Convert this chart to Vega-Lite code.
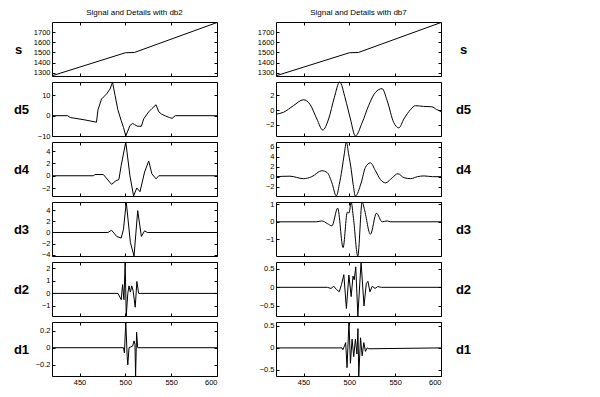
{
  "$schema": "https://vega.github.io/schema/vega-lite/v6.json",
  "padding": {"left": 12, "top": 8, "right": 5, "bottom": 5},
  "background": "white",
  "config": {
    "view": {"stroke": "black", "strokeWidth": 1},
    "axis": {"domain": false, "grid": false, "ticks": true, "tickSize": -3, "tickColor": "black", "tickWidth": 1, "labelFont": "Liberation Sans", "labelFontSize": 7.5, "labelColor": "black", "labelPadding": 5, "titleFont": "Liberation Sans", "titleFontSize": 13, "titleFontWeight": "bold", "titleColor": "black", "titleAngle": 0, "titleAlign": "center", "titleBaseline": "middle"},
    "title": {"font": "Liberation Sans", "fontSize": 8, "fontWeight": "normal", "color": "black", "offset": 4},
    "line": {"color": "black", "strokeWidth": 1}
  },
  "datasets": {
    "L_s": [{"x": 420, "y": 1270}, {"x": 500, "y": 1497}, {"x": 510, "y": 1500}, {"x": 600, "y": 1795}],
    "L_d5": [{"x": 420, "y": 0}, {"x": 437, "y": 0}, {"x": 440, "y": -0.9}, {"x": 455, "y": -2.0}, {"x": 468.5, "y": -3.2}, {"x": 470.2, "y": 3.0}, {"x": 474, "y": 8.2}, {"x": 479.7, "y": 10.8}, {"x": 483.3, "y": 13.1}, {"x": 486, "y": 16.5}, {"x": 488.8, "y": 10}, {"x": 491.8, "y": 3}, {"x": 495.4, "y": -2.3}, {"x": 498, "y": -5.8}, {"x": 500.5, "y": -10}, {"x": 505, "y": -4.9}, {"x": 508, "y": -3.8}, {"x": 510, "y": -4.4}, {"x": 513.5, "y": -5.2}, {"x": 517.5, "y": -5.2}, {"x": 520, "y": -1.6}, {"x": 525.5, "y": 1.9}, {"x": 529, "y": 3.5}, {"x": 533.5, "y": 5.4}, {"x": 536.5, "y": 1.9}, {"x": 539.5, "y": 0.8}, {"x": 544, "y": -0.2}, {"x": 548, "y": -0.9}, {"x": 551, "y": -1.3}, {"x": 554.5, "y": 0}, {"x": 600, "y": 0}],
    "L_d4": [{"x": 420, "y": 0}, {"x": 465, "y": 0}, {"x": 467, "y": 0.2}, {"x": 476, "y": 0.2}, {"x": 485, "y": -1.4}, {"x": 489, "y": -0.9}, {"x": 493, "y": -0.6}, {"x": 495.5, "y": 1.7}, {"x": 500.5, "y": 5.5}, {"x": 505, "y": 0}, {"x": 509, "y": -3.3}, {"x": 512.5, "y": -2.0}, {"x": 516, "y": -2.6}, {"x": 521, "y": 0.6}, {"x": 525.5, "y": 2.4}, {"x": 529, "y": 0.3}, {"x": 533.5, "y": -0.5}, {"x": 536.5, "y": 0}, {"x": 600, "y": 0}],
    "L_d3": [{"x": 420, "y": 0}, {"x": 481, "y": 0}, {"x": 485, "y": 0.4}, {"x": 490.5, "y": -0.7}, {"x": 495.5, "y": -1.0}, {"x": 498, "y": 0.6}, {"x": 501, "y": 5.45}, {"x": 505.5, "y": -1.8}, {"x": 509.5, "y": -4.2}, {"x": 513.5, "y": 3.9}, {"x": 517.5, "y": -0.7}, {"x": 521, "y": 0.3}, {"x": 524, "y": 0}, {"x": 600, "y": 0}],
    "L_d2": [{"x": 420, "y": 0}, {"x": 492, "y": 0}, {"x": 495.5, "y": -0.5}, {"x": 497, "y": 0.7}, {"x": 498.5, "y": -0.5}, {"x": 499.8, "y": 2.5}, {"x": 501, "y": -1.8}, {"x": 502.7, "y": 0}, {"x": 504, "y": 0.6}, {"x": 505.5, "y": 0.1}, {"x": 507, "y": 0.6}, {"x": 508.5, "y": 0.2}, {"x": 510.8, "y": -1.1}, {"x": 512.6, "y": 0.95}, {"x": 514.5, "y": 0}, {"x": 600, "y": 0}],
    "L_d1": [{"x": 420, "y": 0}, {"x": 498, "y": 0}, {"x": 499, "y": -0.06}, {"x": 500.5, "y": 0.3}, {"x": 502, "y": -0.1}, {"x": 502.7, "y": -0.2}, {"x": 504, "y": 0}, {"x": 508, "y": 0.02}, {"x": 509.5, "y": 0.08}, {"x": 510.5, "y": 0.04}, {"x": 511.2, "y": -0.33}, {"x": 512.3, "y": 0.18}, {"x": 513.5, "y": 0}, {"x": 600, "y": 0}],
    "R_s": [{"x": 420, "y": 1270}, {"x": 500, "y": 1497}, {"x": 510, "y": 1500}, {"x": 600, "y": 1795}],
    "R_d5": [{"x": 420, "y": -0.55}, {"x": 428, "y": -0.3}, {"x": 439, "y": 0.6}, {"x": 450, "y": 1.4}, {"x": 457, "y": 0.8}, {"x": 464.6, "y": -1.2}, {"x": 471, "y": -2.7}, {"x": 477.4, "y": -1.2}, {"x": 483.6, "y": 1.7}, {"x": 489.5, "y": 3.8}, {"x": 495.7, "y": 1.5}, {"x": 501.2, "y": -1.2}, {"x": 506.6, "y": -3.5}, {"x": 514, "y": -1.7}, {"x": 521, "y": 0.6}, {"x": 528.5, "y": 2.4}, {"x": 535.8, "y": 2.9}, {"x": 541.2, "y": 1.3}, {"x": 548.5, "y": -1.7}, {"x": 554, "y": -2.4}, {"x": 559.5, "y": -1.2}, {"x": 567, "y": 0.1}, {"x": 572, "y": 0.6}, {"x": 581, "y": 0.5}, {"x": 590, "y": 0.45}, {"x": 595, "y": 0.1}, {"x": 600, "y": -0.2}],
    "R_d4": [{"x": 420, "y": 0}, {"x": 435, "y": 0.1}, {"x": 450, "y": -0.4}, {"x": 459, "y": 0}, {"x": 470, "y": 1.2}, {"x": 476, "y": 0.8}, {"x": 481, "y": -1.25}, {"x": 485.8, "y": -3.9}, {"x": 489, "y": -1.6}, {"x": 492, "y": 1.5}, {"x": 494.5, "y": 4.6}, {"x": 496.8, "y": 7.0}, {"x": 499.2, "y": 4.6}, {"x": 502, "y": 1.5}, {"x": 504.2, "y": -1.6}, {"x": 506.6, "y": -3.9}, {"x": 512.9, "y": -1.25}, {"x": 517.6, "y": 1.9}, {"x": 523, "y": 2.8}, {"x": 528.5, "y": 1.2}, {"x": 534, "y": -0.6}, {"x": 539.5, "y": -1.25}, {"x": 546.9, "y": -0.2}, {"x": 553, "y": 0.6}, {"x": 559.6, "y": -0.2}, {"x": 567, "y": -0.4}, {"x": 574.3, "y": 0}, {"x": 581.5, "y": 0.15}, {"x": 590.8, "y": 0}, {"x": 600, "y": 0}],
    "R_d3": [{"x": 420, "y": 0}, {"x": 464, "y": 0}, {"x": 470, "y": 0.05}, {"x": 476, "y": -0.1}, {"x": 481, "y": -0.23}, {"x": 487.3, "y": 0.78}, {"x": 493.2, "y": -1.47}, {"x": 497.8, "y": 0.55}, {"x": 499.6, "y": 0.5}, {"x": 502, "y": 1.12}, {"x": 504.5, "y": 0.2}, {"x": 509.2, "y": -1.95}, {"x": 514, "y": 1.13}, {"x": 516.5, "y": 0.7}, {"x": 523, "y": -0.71}, {"x": 529.6, "y": 0.49}, {"x": 535.8, "y": 0}, {"x": 541.3, "y": 0.05}, {"x": 545, "y": 0}, {"x": 600, "y": 0}],
    "R_d2": [{"x": 420, "y": 0}, {"x": 476, "y": 0}, {"x": 480, "y": -0.03}, {"x": 483, "y": 0.03}, {"x": 486, "y": -0.06}, {"x": 489, "y": -0.12}, {"x": 491.5, "y": 0.08}, {"x": 494, "y": 0.34}, {"x": 496.8, "y": -0.57}, {"x": 499.5, "y": 0.33}, {"x": 502, "y": -0.25}, {"x": 504, "y": 0.3}, {"x": 505.3, "y": 0.2}, {"x": 507, "y": 0.55}, {"x": 509.3, "y": -0.77}, {"x": 512.8, "y": 0.68}, {"x": 516, "y": -0.5}, {"x": 518.5, "y": 0.1}, {"x": 520.3, "y": 0.16}, {"x": 522.5, "y": -0.12}, {"x": 525, "y": 0.03}, {"x": 528, "y": -0.03}, {"x": 531, "y": 0.02}, {"x": 535, "y": 0}, {"x": 600, "y": 0}],
    "R_d1": [{"x": 420, "y": 0}, {"x": 492, "y": 0}, {"x": 493, "y": -0.04}, {"x": 494.6, "y": 0.04}, {"x": 496, "y": 0.12}, {"x": 497.5, "y": -0.45}, {"x": 499.6, "y": 0.59}, {"x": 501.2, "y": -0.35}, {"x": 503, "y": 0.2}, {"x": 504.8, "y": -0.2}, {"x": 506.6, "y": 0.2}, {"x": 508.3, "y": -0.14}, {"x": 509.4, "y": 0.44}, {"x": 510.3, "y": -0.64}, {"x": 512.2, "y": 0.23}, {"x": 514, "y": -0.18}, {"x": 515.8, "y": 0.12}, {"x": 517.6, "y": -0.08}, {"x": 519.5, "y": 0}, {"x": 521.3, "y": -0.02}, {"x": 600, "y": 0}]
  },
  "columns": 2,
  "spacing": {"row": 6, "column": 59},
  "bounds": "flush",
  "concat": [
    {"title": "Signal and Details with db2", "width": 165, "height": 54, "layer": [
      {"data": {"name": "L_s"}, "mark": {"type": "line"}, "encoding": {"x": {"field": "x", "type": "quantitative", "scale": {"domain": [420, 600], "nice": false, "zero": false}, "axis": {"values": [450, 500, 550, 600], "labels": false, "title": null}}, "y": {"field": "y", "type": "quantitative", "scale": {"domain": [1268, 1800], "nice": false, "zero": false}, "axis": {"values": [1300, 1400, 1500, 1600, 1700], "format": "d", "title": "s", "titleX": -34, "titleY": 27}}}},
      {"data": {"name": "L_s"}, "mark": {"type": "line", "opacity": 0}, "encoding": {"x": {"field": "x", "type": "quantitative", "scale": {"domain": [420, 600], "nice": false, "zero": false}, "axis": {"orient": "top", "values": [450, 500, 550, 600], "labels": false, "title": null}}, "y": {"field": "y", "type": "quantitative", "scale": {"domain": [1268, 1800], "nice": false, "zero": false}, "axis": {"orient": "right", "values": [1300, 1400, 1500, 1600, 1700], "labels": false, "title": null}}}}
    ], "resolve": {"scale": {"x": "independent", "y": "independent"}, "axis": {"x": "independent", "y": "independent"}}},
    {"title": "Signal and Details with db7", "width": 165, "height": 54, "layer": [
      {"data": {"name": "R_s"}, "mark": {"type": "line"}, "encoding": {"x": {"field": "x", "type": "quantitative", "scale": {"domain": [420, 600], "nice": false, "zero": false}, "axis": {"values": [450, 500, 550, 600], "labels": false, "title": null}}, "y": {"field": "y", "type": "quantitative", "scale": {"domain": [1268, 1800], "nice": false, "zero": false}, "axis": {"values": [1300, 1400, 1500, 1600, 1700], "format": "d", "title": null}}}},
      {"data": {"name": "R_s"}, "mark": {"type": "line", "opacity": 0}, "encoding": {"x": {"field": "x", "type": "quantitative", "scale": {"domain": [420, 600], "nice": false, "zero": false}, "axis": {"orient": "top", "values": [450, 500, 550, 600], "labels": false, "title": null}}, "y": {"field": "y", "type": "quantitative", "scale": {"domain": [1268, 1800], "nice": false, "zero": false}, "axis": {"orient": "right", "values": [1300, 1400, 1500, 1600, 1700], "labels": false, "title": "s", "titleX": 22, "titleY": 27}}}}
    ], "resolve": {"scale": {"x": "independent", "y": "independent"}, "axis": {"x": "independent", "y": "independent"}}},
    {"width": 165, "height": 54, "layer": [
      {"data": {"name": "L_d5"}, "mark": {"type": "line"}, "encoding": {"x": {"field": "x", "type": "quantitative", "scale": {"domain": [420, 600], "nice": false, "zero": false}, "axis": {"values": [450, 500, 550, 600], "labels": false, "title": null}}, "y": {"field": "y", "type": "quantitative", "scale": {"domain": [-10, 16.6], "nice": false, "zero": false}, "axis": {"values": [-10, 0, 10], "format": "d", "title": "d5", "titleX": -31, "titleY": 27}}}},
      {"data": {"name": "L_d5"}, "mark": {"type": "line", "opacity": 0}, "encoding": {"x": {"field": "x", "type": "quantitative", "scale": {"domain": [420, 600], "nice": false, "zero": false}, "axis": {"orient": "top", "values": [450, 500, 550, 600], "labels": false, "title": null}}, "y": {"field": "y", "type": "quantitative", "scale": {"domain": [-10, 16.6], "nice": false, "zero": false}, "axis": {"orient": "right", "values": [-10, 0, 10], "labels": false, "title": null}}}}
    ], "resolve": {"scale": {"x": "independent", "y": "independent"}, "axis": {"x": "independent", "y": "independent"}}},
    {"width": 165, "height": 54, "layer": [
      {"data": {"name": "R_d5"}, "mark": {"type": "line", "interpolate": "monotone"}, "encoding": {"x": {"field": "x", "type": "quantitative", "scale": {"domain": [420, 600], "nice": false, "zero": false}, "axis": {"values": [450, 500, 550, 600], "labels": false, "title": null}}, "y": {"field": "y", "type": "quantitative", "scale": {"domain": [-3.5, 3.8], "nice": false, "zero": false}, "axis": {"values": [-2, 0, 2], "format": "d", "title": null}}}},
      {"data": {"name": "R_d5"}, "mark": {"type": "line", "opacity": 0}, "encoding": {"x": {"field": "x", "type": "quantitative", "scale": {"domain": [420, 600], "nice": false, "zero": false}, "axis": {"orient": "top", "values": [450, 500, 550, 600], "labels": false, "title": null}}, "y": {"field": "y", "type": "quantitative", "scale": {"domain": [-3.5, 3.8], "nice": false, "zero": false}, "axis": {"orient": "right", "values": [-2, 0, 2], "labels": false, "title": "d5", "titleX": 22, "titleY": 27}}}}
    ], "resolve": {"scale": {"x": "independent", "y": "independent"}, "axis": {"x": "independent", "y": "independent"}}},
    {"width": 165, "height": 54, "layer": [
      {"data": {"name": "L_d4"}, "mark": {"type": "line"}, "encoding": {"x": {"field": "x", "type": "quantitative", "scale": {"domain": [420, 600], "nice": false, "zero": false}, "axis": {"values": [450, 500, 550, 600], "labels": false, "title": null}}, "y": {"field": "y", "type": "quantitative", "scale": {"domain": [-3.3, 5.5], "nice": false, "zero": false}, "axis": {"values": [-2, 0, 2, 4], "format": "d", "title": "d4", "titleX": -31, "titleY": 27}}}},
      {"data": {"name": "L_d4"}, "mark": {"type": "line", "opacity": 0}, "encoding": {"x": {"field": "x", "type": "quantitative", "scale": {"domain": [420, 600], "nice": false, "zero": false}, "axis": {"orient": "top", "values": [450, 500, 550, 600], "labels": false, "title": null}}, "y": {"field": "y", "type": "quantitative", "scale": {"domain": [-3.3, 5.5], "nice": false, "zero": false}, "axis": {"orient": "right", "values": [-2, 0, 2, 4], "labels": false, "title": null}}}}
    ], "resolve": {"scale": {"x": "independent", "y": "independent"}, "axis": {"x": "independent", "y": "independent"}}},
    {"width": 165, "height": 54, "layer": [
      {"data": {"name": "R_d4"}, "mark": {"type": "line", "interpolate": "monotone"}, "encoding": {"x": {"field": "x", "type": "quantitative", "scale": {"domain": [420, 600], "nice": false, "zero": false}, "axis": {"values": [450, 500, 550, 600], "labels": false, "title": null}}, "y": {"field": "y", "type": "quantitative", "scale": {"domain": [-3.9, 7.0], "nice": false, "zero": false}, "axis": {"values": [-2, 0, 2, 4, 6], "format": "d", "title": null}}}},
      {"data": {"name": "R_d4"}, "mark": {"type": "line", "opacity": 0}, "encoding": {"x": {"field": "x", "type": "quantitative", "scale": {"domain": [420, 600], "nice": false, "zero": false}, "axis": {"orient": "top", "values": [450, 500, 550, 600], "labels": false, "title": null}}, "y": {"field": "y", "type": "quantitative", "scale": {"domain": [-3.9, 7.0], "nice": false, "zero": false}, "axis": {"orient": "right", "values": [-2, 0, 2, 4, 6], "labels": false, "title": "d4", "titleX": 22, "titleY": 27}}}}
    ], "resolve": {"scale": {"x": "independent", "y": "independent"}, "axis": {"x": "independent", "y": "independent"}}},
    {"width": 165, "height": 54, "layer": [
      {"data": {"name": "L_d3"}, "mark": {"type": "line"}, "encoding": {"x": {"field": "x", "type": "quantitative", "scale": {"domain": [420, 600], "nice": false, "zero": false}, "axis": {"values": [450, 500, 550, 600], "labels": false, "title": null}}, "y": {"field": "y", "type": "quantitative", "scale": {"domain": [-4.2, 5.45], "nice": false, "zero": false}, "axis": {"values": [-4, -2, 0, 2, 4], "format": "d", "title": "d3", "titleX": -31, "titleY": 27}}}},
      {"data": {"name": "L_d3"}, "mark": {"type": "line", "opacity": 0}, "encoding": {"x": {"field": "x", "type": "quantitative", "scale": {"domain": [420, 600], "nice": false, "zero": false}, "axis": {"orient": "top", "values": [450, 500, 550, 600], "labels": false, "title": null}}, "y": {"field": "y", "type": "quantitative", "scale": {"domain": [-4.2, 5.45], "nice": false, "zero": false}, "axis": {"orient": "right", "values": [-4, -2, 0, 2, 4], "labels": false, "title": null}}}}
    ], "resolve": {"scale": {"x": "independent", "y": "independent"}, "axis": {"x": "independent", "y": "independent"}}},
    {"width": 165, "height": 54, "layer": [
      {"data": {"name": "R_d3"}, "mark": {"type": "line", "interpolate": "monotone"}, "encoding": {"x": {"field": "x", "type": "quantitative", "scale": {"domain": [420, 600], "nice": false, "zero": false}, "axis": {"values": [450, 500, 550, 600], "labels": false, "title": null}}, "y": {"field": "y", "type": "quantitative", "scale": {"domain": [-1.95, 1.13], "nice": false, "zero": false}, "axis": {"values": [-1, 0, 1], "format": "d", "title": null}}}},
      {"data": {"name": "R_d3"}, "mark": {"type": "line", "opacity": 0}, "encoding": {"x": {"field": "x", "type": "quantitative", "scale": {"domain": [420, 600], "nice": false, "zero": false}, "axis": {"orient": "top", "values": [450, 500, 550, 600], "labels": false, "title": null}}, "y": {"field": "y", "type": "quantitative", "scale": {"domain": [-1.95, 1.13], "nice": false, "zero": false}, "axis": {"orient": "right", "values": [-1, 0, 1], "labels": false, "title": "d3", "titleX": 22, "titleY": 27}}}}
    ], "resolve": {"scale": {"x": "independent", "y": "independent"}, "axis": {"x": "independent", "y": "independent"}}},
    {"width": 165, "height": 54, "layer": [
      {"data": {"name": "L_d2"}, "mark": {"type": "line"}, "encoding": {"x": {"field": "x", "type": "quantitative", "scale": {"domain": [420, 600], "nice": false, "zero": false}, "axis": {"values": [450, 500, 550, 600], "labels": false, "title": null}}, "y": {"field": "y", "type": "quantitative", "scale": {"domain": [-1.8, 2.5], "nice": false, "zero": false}, "axis": {"values": [-1, 0, 1, 2], "format": "d", "title": "d2", "titleX": -31, "titleY": 27}}}},
      {"data": {"name": "L_d2"}, "mark": {"type": "line", "opacity": 0}, "encoding": {"x": {"field": "x", "type": "quantitative", "scale": {"domain": [420, 600], "nice": false, "zero": false}, "axis": {"orient": "top", "values": [450, 500, 550, 600], "labels": false, "title": null}}, "y": {"field": "y", "type": "quantitative", "scale": {"domain": [-1.8, 2.5], "nice": false, "zero": false}, "axis": {"orient": "right", "values": [-1, 0, 1, 2], "labels": false, "title": null}}}}
    ], "resolve": {"scale": {"x": "independent", "y": "independent"}, "axis": {"x": "independent", "y": "independent"}}},
    {"width": 165, "height": 54, "layer": [
      {"data": {"name": "R_d2"}, "mark": {"type": "line"}, "encoding": {"x": {"field": "x", "type": "quantitative", "scale": {"domain": [420, 600], "nice": false, "zero": false}, "axis": {"values": [450, 500, 550, 600], "labels": false, "title": null}}, "y": {"field": "y", "type": "quantitative", "scale": {"domain": [-0.77, 0.68], "nice": false, "zero": false}, "axis": {"values": [-0.5, 0, 0.5], "format": ".1~f", "title": null}}}},
      {"data": {"name": "R_d2"}, "mark": {"type": "line", "opacity": 0}, "encoding": {"x": {"field": "x", "type": "quantitative", "scale": {"domain": [420, 600], "nice": false, "zero": false}, "axis": {"orient": "top", "values": [450, 500, 550, 600], "labels": false, "title": null}}, "y": {"field": "y", "type": "quantitative", "scale": {"domain": [-0.77, 0.68], "nice": false, "zero": false}, "axis": {"orient": "right", "values": [-0.5, 0, 0.5], "labels": false, "title": "d2", "titleX": 22, "titleY": 27}}}}
    ], "resolve": {"scale": {"x": "independent", "y": "independent"}, "axis": {"x": "independent", "y": "independent"}}},
    {"width": 165, "height": 54, "layer": [
      {"data": {"name": "L_d1"}, "mark": {"type": "line"}, "encoding": {"x": {"field": "x", "type": "quantitative", "scale": {"domain": [420, 600], "nice": false, "zero": false}, "axis": {"values": [450, 500, 550, 600], "format": "d", "labels": true, "labelPadding": 5, "title": null}}, "y": {"field": "y", "type": "quantitative", "scale": {"domain": [-0.33, 0.3], "nice": false, "zero": false}, "axis": {"values": [-0.2, 0, 0.2], "format": ".1~f", "title": "d1", "titleX": -31, "titleY": 27}}}},
      {"data": {"name": "L_d1"}, "mark": {"type": "line", "opacity": 0}, "encoding": {"x": {"field": "x", "type": "quantitative", "scale": {"domain": [420, 600], "nice": false, "zero": false}, "axis": {"orient": "top", "values": [450, 500, 550, 600], "labels": false, "title": null}}, "y": {"field": "y", "type": "quantitative", "scale": {"domain": [-0.33, 0.3], "nice": false, "zero": false}, "axis": {"orient": "right", "values": [-0.2, 0, 0.2], "labels": false, "title": null}}}}
    ], "resolve": {"scale": {"x": "independent", "y": "independent"}, "axis": {"x": "independent", "y": "independent"}}},
    {"width": 165, "height": 54, "layer": [
      {"data": {"name": "R_d1"}, "mark": {"type": "line"}, "encoding": {"x": {"field": "x", "type": "quantitative", "scale": {"domain": [420, 600], "nice": false, "zero": false}, "axis": {"values": [450, 500, 550, 600], "format": "d", "labels": true, "labelPadding": 5, "title": null}}, "y": {"field": "y", "type": "quantitative", "scale": {"domain": [-0.64, 0.59], "nice": false, "zero": false}, "axis": {"values": [-0.5, 0, 0.5], "format": ".1~f", "title": null}}}},
      {"data": {"name": "R_d1"}, "mark": {"type": "line", "opacity": 0}, "encoding": {"x": {"field": "x", "type": "quantitative", "scale": {"domain": [420, 600], "nice": false, "zero": false}, "axis": {"orient": "top", "values": [450, 500, 550, 600], "labels": false, "title": null}}, "y": {"field": "y", "type": "quantitative", "scale": {"domain": [-0.64, 0.59], "nice": false, "zero": false}, "axis": {"orient": "right", "values": [-0.5, 0, 0.5], "labels": false, "title": "d1", "titleX": 22, "titleY": 27}}}}
    ], "resolve": {"scale": {"x": "independent", "y": "independent"}, "axis": {"x": "independent", "y": "independent"}}}
  ]
}
